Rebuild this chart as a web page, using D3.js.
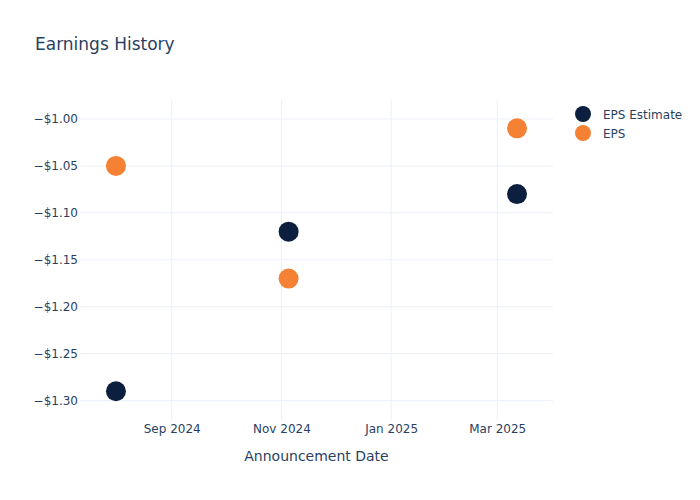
<!DOCTYPE html>
<html>
<head>
<meta charset="utf-8">
<script src="https://cdn.jsdelivr.net/npm/d3@7"></script>
<style>
  body { margin: 0; background: #fff; }
  svg { font-family: "DejaVu Sans", sans-serif; }
</style>
</head>
<body>
<svg id="chart" width="700" height="500"></svg>
<script>
// data
var dates = ["2024-08-01", "2024-11-05", "2025-03-12"];
var eps_estimate = [-1.29, -1.12, -1.08];
var eps_actual = [-1.05, -1.17, -1.01];
var series_names = ["EPS Estimate", "EPS"];
var series_colors = ["#0c1f3f", "#f58134"];
var y_ticks = [-1.00, -1.05, -1.10, -1.15, -1.20, -1.25, -1.30];
var x_ticks = ["2024-09-01", "2024-11-01", "2025-01-01", "2025-03-01"];

var svg = d3.select("#chart");
var width = 700, height = 500;
var margin = {left: 80, right: 147, top: 100, bottom: 80};
var parse = d3.timeParse("%Y-%m-%d");

var xScale = d3.scaleTime()
               .domain([parse("2024-07-12"), parse("2025-04-01")])
               .range([margin.left, width - margin.right]);

var yScale = d3.scaleLinear()
               .domain([-1.3206, -0.9798])
               .range([height - margin.bottom, margin.top]);

var textColor = "#2a3f5f";
var gridColor = "#ebf0f8";

// gridlines
svg.append("g")
   .selectAll("line")
   .data(y_ticks)
   .enter()
   .append("line")
   .attr("x1", margin.left)
   .attr("x2", width - margin.right)
   .attr("y1", function(d) { return yScale(d); })
   .attr("y2", function(d) { return yScale(d); })
   .attr("stroke", gridColor)
   .attr("stroke-width", 1);

svg.append("g")
   .selectAll("line")
   .data(x_ticks)
   .enter()
   .append("line")
   .attr("x1", function(d) { return xScale(parse(d)); })
   .attr("x2", function(d) { return xScale(parse(d)); })
   .attr("y1", margin.top)
   .attr("y2", height - margin.bottom)
   .attr("stroke", gridColor)
   .attr("stroke-width", 1);

// axes
var xAxis = d3.axisBottom(xScale)
              .tickValues(x_ticks.map(parse))
              .tickSize(0)
              .tickPadding(4)
              .tickFormat(d3.timeFormat("%b %Y"));

var yAxis = d3.axisLeft(yScale)
              .tickValues(y_ticks)
              .tickSize(0)
              .tickPadding(2)
              .tickFormat(function(d) {
                  return "\u2212$" + Math.abs(d).toFixed(2);
              });

var gx = svg.append("g")
   .attr("transform", "translate(0," + (height - margin.bottom) + ")")
   .call(xAxis);
var gy = svg.append("g")
   .attr("transform", "translate(" + margin.left + ",0)")
   .call(yAxis);

[gx, gy].forEach(function(g) {
    g.select(".domain").remove();
    g.selectAll("text")
     .attr("fill", textColor)
     .style("font-size", "12px")
     .style("font-family", "\"DejaVu Sans\", sans-serif");
});

// points
var all_series = [eps_estimate, eps_actual];
all_series.forEach(function(values, s) {
    svg.append("g")
       .selectAll("circle")
       .data(values)
       .enter()
       .append("circle")
       .attr("cx", function(d, i) { return xScale(parse(dates[i])); })
       .attr("cy", function(d) { return yScale(d); })
       .attr("r", 10)
       .attr("fill", series_colors[s]);
});

// title
svg.append("text")
   .attr("x", 35)
   .attr("y", 50)
   .attr("fill", textColor)
   .style("font-size", "17px")
   .text("Earnings History");

// x axis title
svg.append("text")
   .attr("x", (margin.left + width - margin.right) / 2)
   .attr("y", 461)
   .attr("text-anchor", "middle")
   .attr("fill", textColor)
   .style("font-size", "14px")
   .text("Announcement Date");

// legend
var legend = svg.append("g")
   .selectAll("g")
   .data(series_names)
   .enter()
   .append("g")
   .attr("transform", function(d, i) { return "translate(583," + (114 + i * 19) + ")"; });

legend.append("circle")
      .attr("r", 8)
      .attr("fill", function(d, i) { return series_colors[i]; });

legend.append("text")
      .attr("x", 20)
      .attr("y", 4.5)
      .attr("fill", textColor)
      .style("font-size", "12px")
      .text(function(d) { return d; });
</script>
</body>
</html>
